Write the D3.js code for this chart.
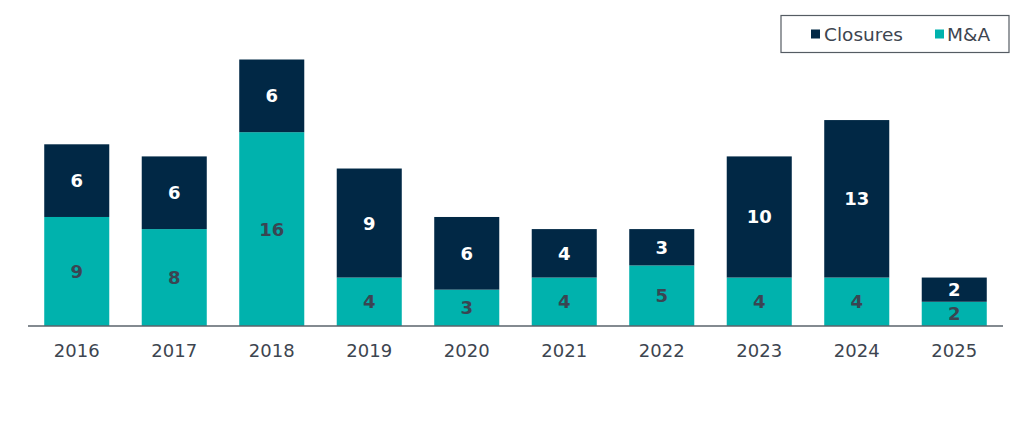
<!DOCTYPE html>
<html><head><meta charset="utf-8">
<script src="https://cdn.jsdelivr.net/npm/d3@7"></script>
<style>body{margin:0;background:#fff;}svg{display:block;font-family:"DejaVu Sans",Verdana,sans-serif;}</style>
</head><body><svg id="c" width="1024" height="427"></svg>
<script>
const years = ["2016","2017","2018","2019","2020","2021","2022","2023","2024","2025"];
const mna = [9,8,16,4,3,4,5,4,4,2];
const closures = [6,6,6,9,6,4,3,10,13,2];
const seriesNames = ["Closures","M&A"];
const colors = {"Closures":"#012845","M&A":"#00b2ad"};
const labelColors = {"Closures":"#ffffff","M&A":"#3a4552"};

const svg = d3.select("#c");
const x0 = 28, x1 = 1003, yBase = 326;
const x = d3.scaleBand().domain(years).range([x0, x1]).paddingInner(0.333).paddingOuter(0.1665);
const y = d3.scaleLinear().domain([0, 22]).range([yBase, yBase - 266.5]);

const data = years.map((yr,i)=>({year:yr,"M&A":mna[i],"Closures":closures[i]}));
const stack = d3.stack().keys(["M&A","Closures"])(data);

const g = svg.append("g");
stack.forEach(layer=>{
  const key = layer.key;
  g.selectAll(null).data(layer).enter().append("rect")
    .attr("x", d=>x(d.data.year)).attr("width", x.bandwidth())
    .attr("y", d=>y(d[1])).attr("height", d=>y(d[0])-y(d[1]))
    .attr("fill", colors[key]);
  g.selectAll(null).data(layer).enter().append("text")
    .attr("x", d=>x(d.data.year)+x.bandwidth()/2)
    .attr("y", d=>(y(d[0])+y(d[1]))/2)
    .attr("dy","0.36em").attr("text-anchor","middle")
    .attr("font-size",18).attr("font-weight","bold")
    .attr("fill", labelColors[key]).text(d=>d[1]-d[0]);
});

const axis = svg.append("g").attr("transform",`translate(0,${yBase})`)
  .call(d3.axisBottom(x).tickSize(0).tickPadding(18));
axis.select(".domain").attr("stroke","#5a636b").attr("stroke-width",1.5).attr("d",`M${x0},0H${x1}`);
axis.selectAll("text").attr("font-size",18).attr("fill","#3d4550").attr("font-family","DejaVu Sans, Verdana, sans-serif");

// legend
const lg = svg.append("g");
lg.append("rect").attr("x",781).attr("y",15.5).attr("width",228).attr("height",37)
  .attr("fill","#fff").attr("stroke","#555c63").attr("stroke-width",1.2);
const legItems = [{name:"Closures",sx:811,tx:824},{name:"M&A",sx:935,tx:947}];
legItems.forEach(it=>{
  lg.append("rect").attr("x",it.sx).attr("y",29.5).attr("width",9).attr("height",9).attr("fill",colors[it.name]);
  lg.append("text").attr("x",it.tx).attr("y",34).attr("dy","0.36em").attr("font-size",18.5)
    .attr("fill","#3d4550").text(it.name);
});
</script></body></html>
